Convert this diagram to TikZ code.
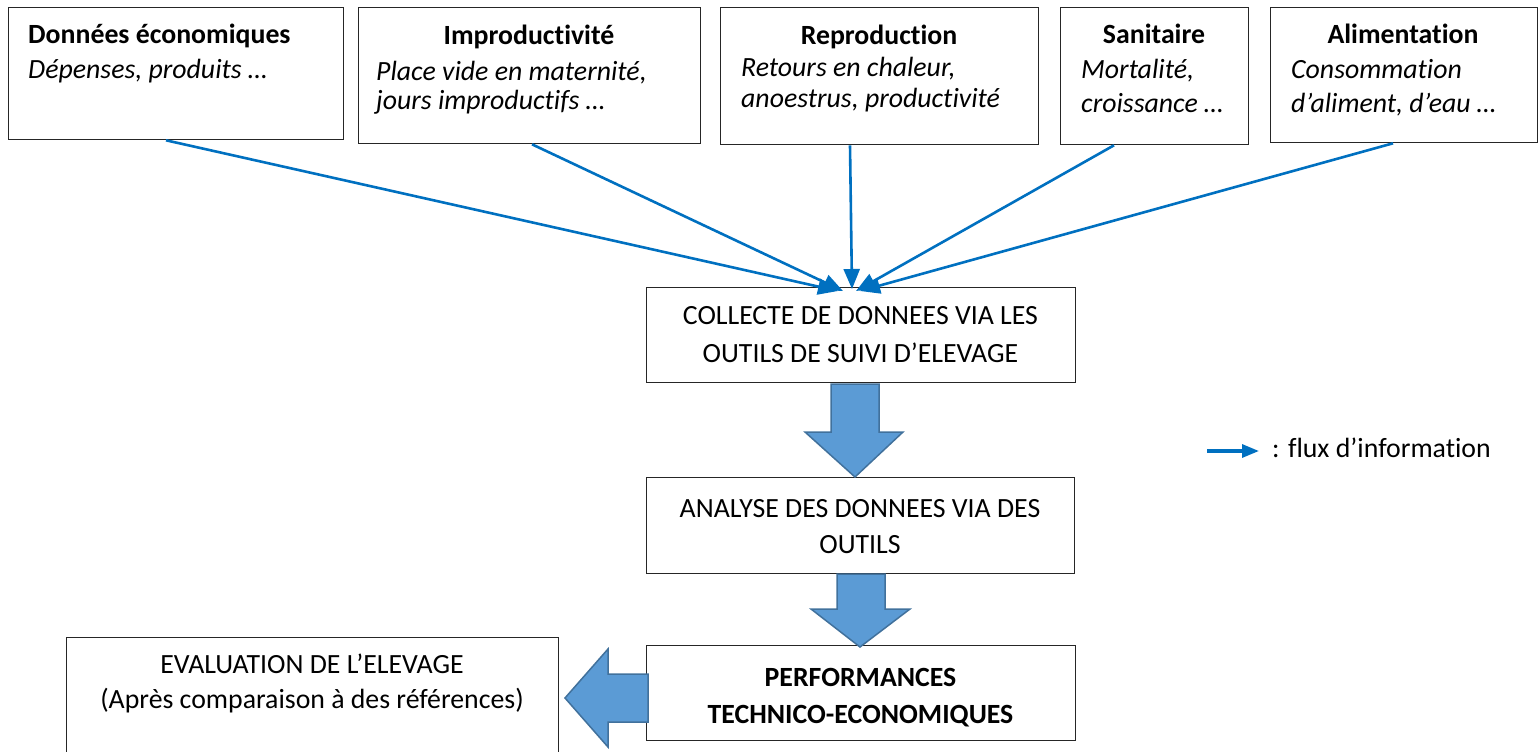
\documentclass[tikz,border=0pt]{standalone}
\usepackage{fontspec}
\setmainfont{Carlito}[RawFeature={-liga;-dlig;-calt;-clig}]
\usetikzlibrary{arrows.meta,calc}
\definecolor{flux}{RGB}{0,112,192}
\definecolor{bfill}{RGB}{91,155,213}
\definecolor{bline}{RGB}{65,113,156}
\begin{document}
\begin{tikzpicture}[x=1pt,y=-1pt,
  bx/.style={draw=black!85,line width=1.3pt,inner sep=0pt,anchor=north west},
  txt/.style={inner sep=0pt,anchor=base,font=\fontsize{27.8}{33}\selectfont},
  txtl/.style={txt,anchor=base west},
  fluxarrow/.style={draw=flux,line width=2.6pt,-{Triangle[length=20pt,width=16pt]}},
  legarrow/.style={draw=flux,line width=3.2pt,-{Triangle[length=17pt,width=13pt]}},
  blockarrow/.style={fill=bfill,draw=bline,line width=1.5pt,line join=miter}]
\useasboundingbox (0,0) rectangle (1540,752);
% boxes
\node[bx,minimum width=335pt,minimum height=132pt] (b1) at (8,7) {};
\node[bx,minimum width=342pt,minimum height=136pt] (b2) at (358,7) {};
\node[bx,minimum width=318pt,minimum height=137pt] (b3) at (720,7) {};
\node[bx,minimum width=188pt,minimum height=137pt] (b4) at (1060,7) {};
\node[bx,minimum width=267pt,minimum height=135pt] (b5) at (1270,7) {};
\node[bx,minimum width=429pt,minimum height=95pt] (col) at (646,287) {};
\node[bx,minimum width=428pt,minimum height=96pt] (ana) at (646,477) {};
\node[bx,minimum width=429pt,minimum height=95pt] (perf) at (646,645) {};
\node[bx,minimum width=492pt,minimum height=140pt] (eval) at (66,637) {};
% texts
\node[txtl] (t1a) at (28,44) {\bfseries Données économiques};
\node[txtl] (t1b) at (28,78) {\itshape Dépenses, produits …};
\node[txt] (t2a) at (529,45) {\bfseries Improductivité};
\node[txtl] (t2b) at (376,81) {\itshape Place vide en maternité,};
\node[txtl] (t2c) at (376,110) {\itshape jours improductifs …};
\node[txt] (t3a) at (879,45) {\bfseries Reproduction};
\node[txtl] (t3b) at (741,77) {\itshape Retours en chaleur,};
\node[txtl] (t3c) at (741,107) {\itshape anoestrus, productivité};
\node[txt] (t4a) at (1154,44) {\bfseries Sanitaire};
\node[txtl] (t4b) at (1081,78) {\itshape Mortalité,};
\node[txtl] (t4c) at (1081,112) {\itshape croissance …};
\node[txt] (t5a) at (1403,44) {\bfseries Alimentation};
\node[txtl] (t5b) at (1291,78) {\itshape Consommation};
\node[txtl] (t5c) at (1291,112) {\itshape d’aliment, d’eau …};
\node[txt] (tc1) at (860.5,324) {COLLECTE DE DONNEES VIA LES};
\node[txt] (tc2) at (860.5,362) {OUTILS DE SUIVI D’ELEVAGE};
\node[txt] (ta1) at (860,517) {ANALYSE DES DONNEES VIA DES};
\node[txt] (ta2) at (860,553) {OUTILS};
\node[txt] (tp1) at (860.5,686) {\bfseries PERFORMANCES};
\node[txt] (tp2) at (860.5,723) {\bfseries TECHNICO-ECONOMIQUES};
\node[txt] (te1) at (312,673) {EVALUATION DE L’ELEVAGE};
\node[txt] (te2) at (312,708) {(Après comparaison à des références)};
% flux arrows
\coordinate (in1) at (838,291);
\coordinate (in2) at (843,291);
\coordinate (in3) at (852,289);
\coordinate (in4) at (856,291);
\coordinate (in5) at (860,291);
\draw[fluxarrow] ($(b1.south west)+(158,0)$) -- (in1);
\draw[fluxarrow] ($(b2.south west)+(174,0)$) -- (in2);
\draw[fluxarrow] ($(b3.south west)+(130,0)$) -- (in3);
\draw[fluxarrow] ($(b4.south west)+(54,0)$) -- (in4);
\draw[fluxarrow] ($(b5.south west)+(123,0)$) -- (in5);
% block arrows
\draw[blockarrow] (831,384) -- (879,384) -- (879,432) -- (903,432) -- (855,477) -- (805,432) -- (831,432) -- cycle;
\draw[blockarrow] (837,574) -- (885,574) -- (885,609) -- (910,609) -- (860,647) -- (811,609) -- (837,609) -- cycle;
\draw[blockarrow] (648,674) -- (648,722) -- (608,722) -- (608,747) -- (565,698) -- (608,649) -- (608,674) -- cycle;
% legend
\coordinate (lg1) at (1207,451);
\coordinate (lg2) at (1259,451);
\draw[legarrow] (lg1) -- (lg2);
\node[txtl] (lgt) at (1272,457) {: flux d’information};
\end{tikzpicture}
\end{document}
